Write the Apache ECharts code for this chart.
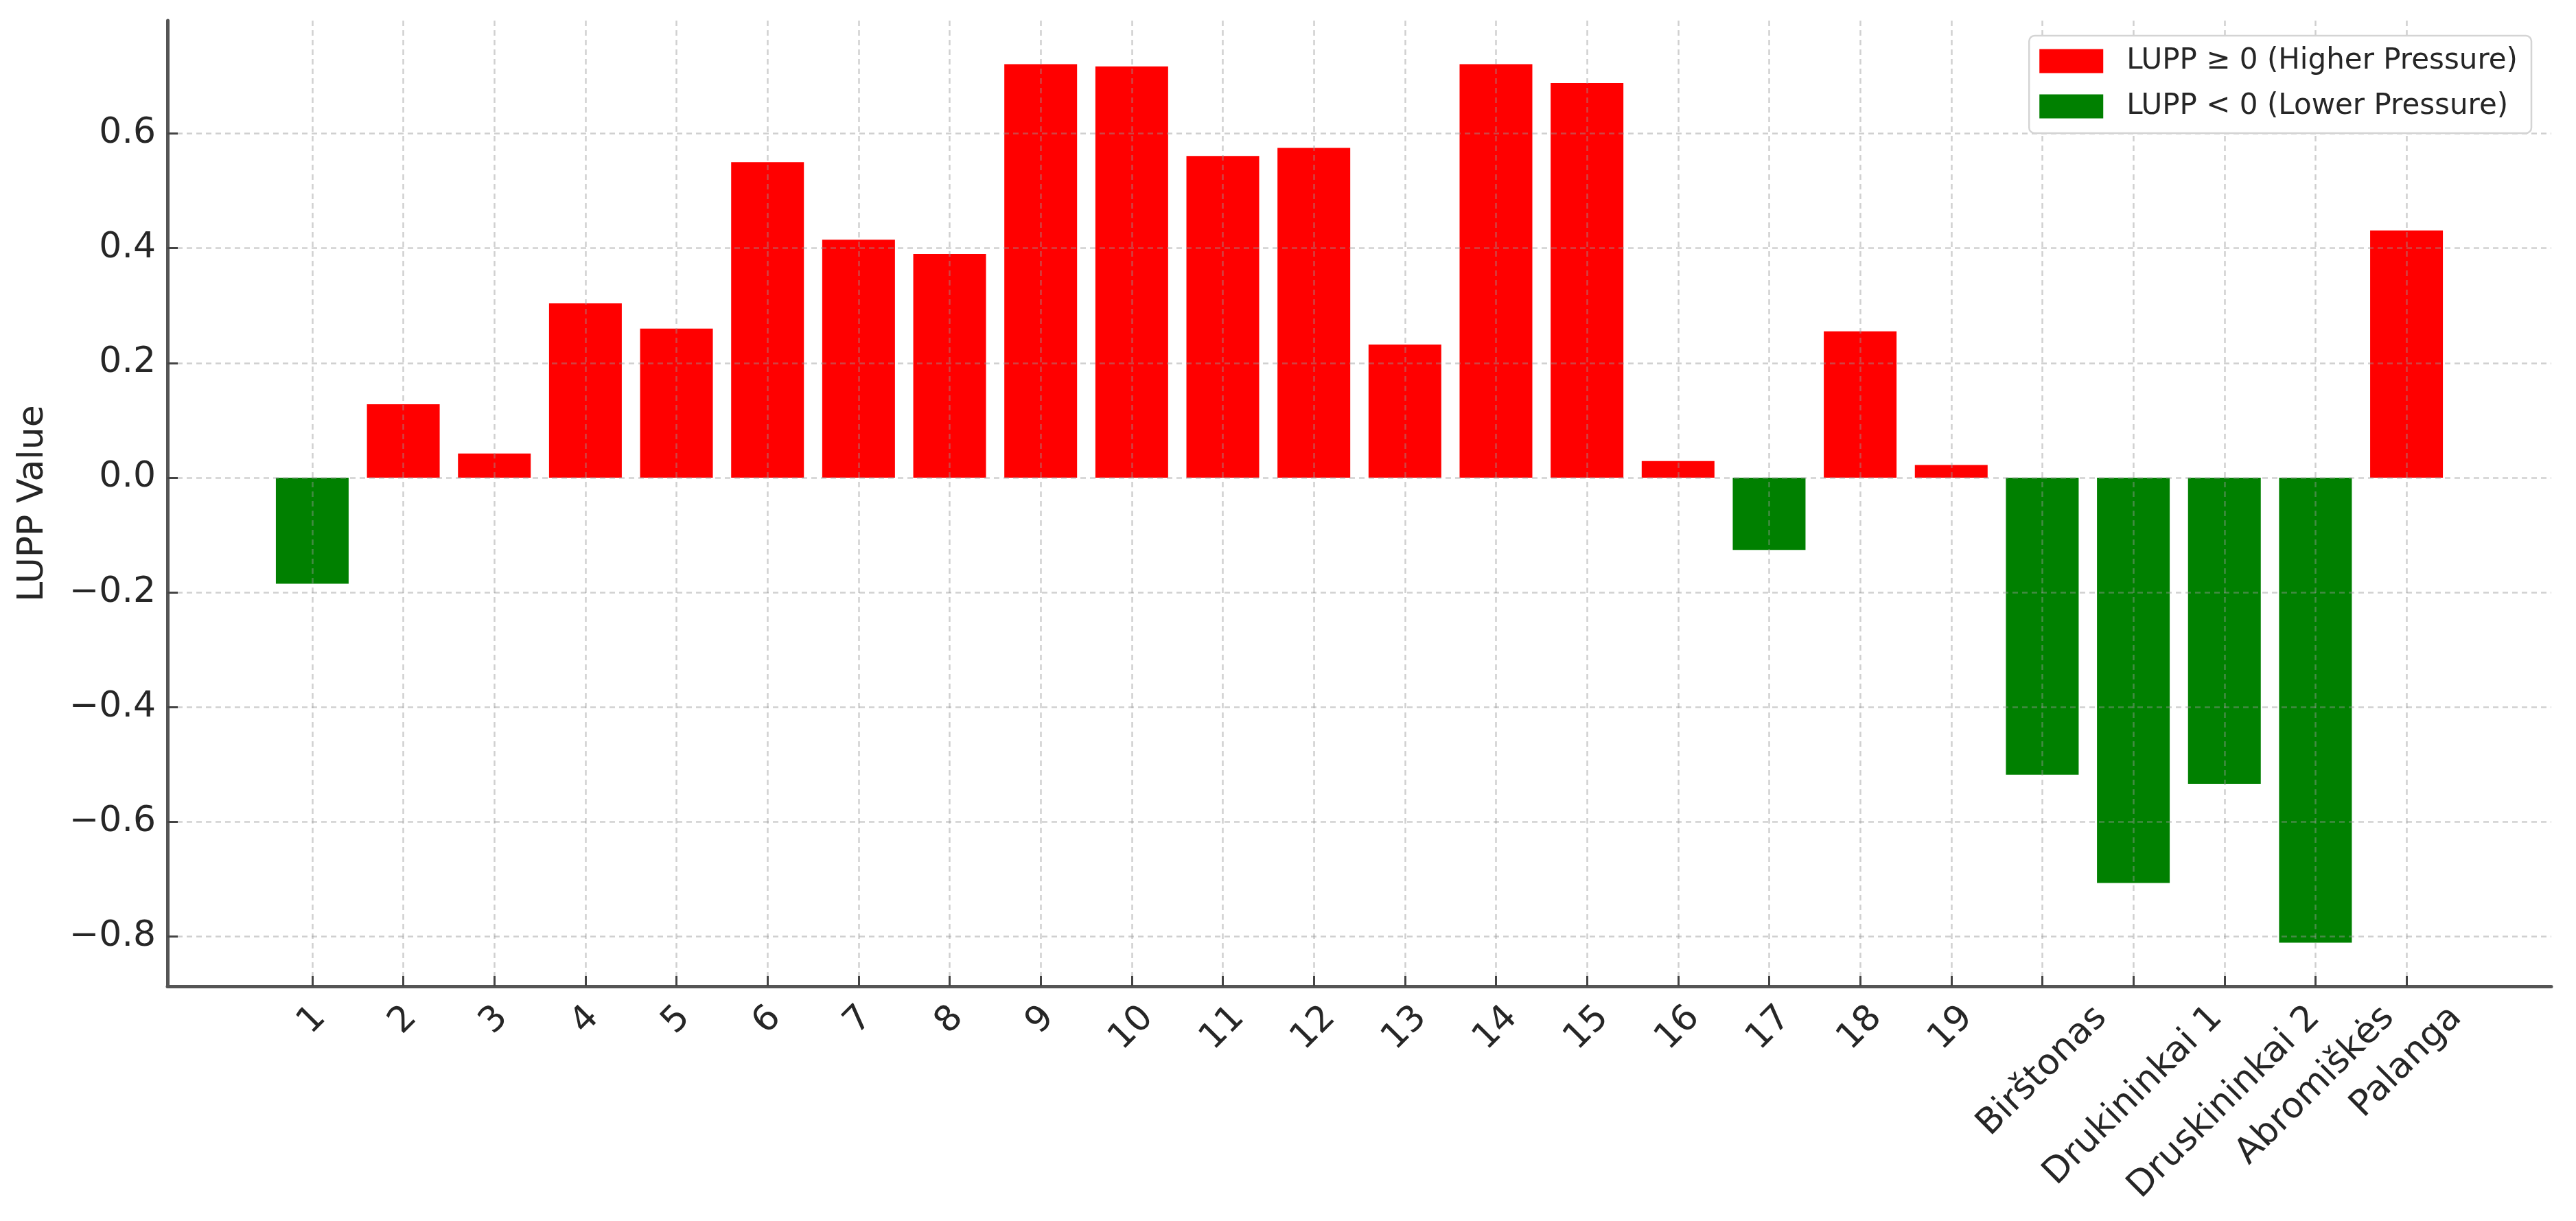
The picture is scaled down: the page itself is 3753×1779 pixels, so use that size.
<!DOCTYPE html>
<html>
<head>
<meta charset="utf-8">
<title>LUPP Value</title>
<script src="https://cdn.jsdelivr.net/npm/echarts@6/dist/echarts.min.js"></script>
<style>
  html, body { margin: 0; padding: 0; background: #fff; }
  #chart { width: 3753px; height: 1779px; }
</style>
</head>
<body>
<div id="chart"></div>
<script>
// sites on the x axis
const categories = ['1', '2', '3', '4', '5', '6', '7', '8', '9', '10', '11', '12', '13', '14', '15', '16', '17', '18', '19',
  'Birštonas', 'Drukininkai 1', 'Druskininkai 2', 'Abromiškės', 'Palanga']
// LUPP value per site
const lupp = [-0.185, 0.128, 0.042, 0.304, 0.26, 0.55, 0.415, 0.39, 0.721, 0.717, 0.561, 0.575, 0.232,
  0.721, 0.688, 0.029, -0.126, 0.255, 0.022, -0.518, -0.707, -0.534, -0.811, 0.431]
const yTicks = [-0.8, -0.6, -0.4, -0.2, 0.0, 0.2, 0.4, 0.6]
const seriesNames = ['LUPP \u2265 0 (Higher Pressure)', 'LUPP < 0 (Lower Pressure)']

const FONT = '"DejaVu Sans", sans-serif'
const TEXT = '#262626'
const xTicks = categories.map((c, i) => i)

const posData = lupp.map((v, i) => [i, v]).filter(p => p[1] >= 0)
const negData = lupp.map((v, i) => [i, v]).filter(p => p[1] < 0)

// matplotlib centers rotated labels on the tick, so push longer labels further down
const ctx = document.createElement('canvas').getContext('2d')
ctx.font = '52px "DejaVu Sans"'
const rich = {}
categories.forEach((c, i) => {
  const w = ctx.measureText(c).width
  rich['l' + i] = {
    fontSize: 52, fontFamily: FONT, color: TEXT,
    padding: [w / 2, w / 2, 0, 0]
  }
})

const gridLine = { color: 'rgba(150,150,150,0.45)', width: 2.5, type: [8, 6] }

const chart = echarts.init(document.getElementById('chart'))
chart.setOption({
  animation: false,
  backgroundColor: '#fff',
  grid: { left: 244, right: 36, top: 30, bottom: 342, outerBoundsMode: 'none' },
  legend: {
    data: seriesNames,
    orient: 'vertical',
    right: 65,
    top: 52,
    z: 10,
    icon: 'rect',
    itemWidth: 93,
    itemHeight: 35,
    itemGap: 24,
    padding: [16, 20, 18, 15],
    backgroundColor: '#fff',
    borderColor: '#d4d4d4',
    borderWidth: 2.5,
    borderRadius: 8,
    textStyle: { fontSize: 42, fontFamily: FONT, color: TEXT, padding: [0, 0, 0, 29] }
  },
  xAxis: {
    type: 'value',
    min: -1.59,
    max: 24.59,
    z: 5,
    axisLine: { onZero: false, lineStyle: { color: '#555', width: 5 } },
    axisTick: { show: true, inside: true, length: 15, customValues: xTicks, lineStyle: { color: '#444', width: 3 } },
    axisLabel: {
      customValues: xTicks,
      rotate: 45,
      align: 'center',
      verticalAlign: 'middle',
      margin: 38,
      formatter: v => '{l' + v + '|' + categories[v] + '}',
      rich: rich
    },
    splitLine: { show: true, lineStyle: gridLine }
  },
  yAxis: {
    type: 'value',
    min: -0.887,
    max: 0.797,
    z: 5,
    name: 'LUPP Value',
    nameLocation: 'middle',
    nameRotate: 90,
    nameGap: 170,
    nameTextStyle: { fontSize: 52, fontFamily: FONT, color: TEXT },
    axisLine: { show: true, onZero: false, lineStyle: { color: '#555', width: 5 } },
    axisTick: { show: true, inside: true, length: 15, customValues: yTicks, lineStyle: { color: '#444', width: 3 } },
    axisLabel: {
      customValues: yTicks,
      margin: 17,
      fontSize: 52,
      fontFamily: FONT,
      color: TEXT,
      formatter: v => (v < -1e-9 ? '\u2212' : '') + Math.abs(v).toFixed(1)
    },
    splitLine: { show: true, lineStyle: gridLine }
  },
  series: [
    {
      name: seriesNames[0],
      type: 'bar',
      data: posData,
      barWidth: 106,
      barGap: '-100%',
      itemStyle: { color: '#ff0000' }
    },
    {
      name: seriesNames[1],
      type: 'bar',
      data: negData,
      barWidth: 106,
      barGap: '-100%',
      itemStyle: { color: '#008000' }
    }
  ]
})
</script>
</body>
</html>
